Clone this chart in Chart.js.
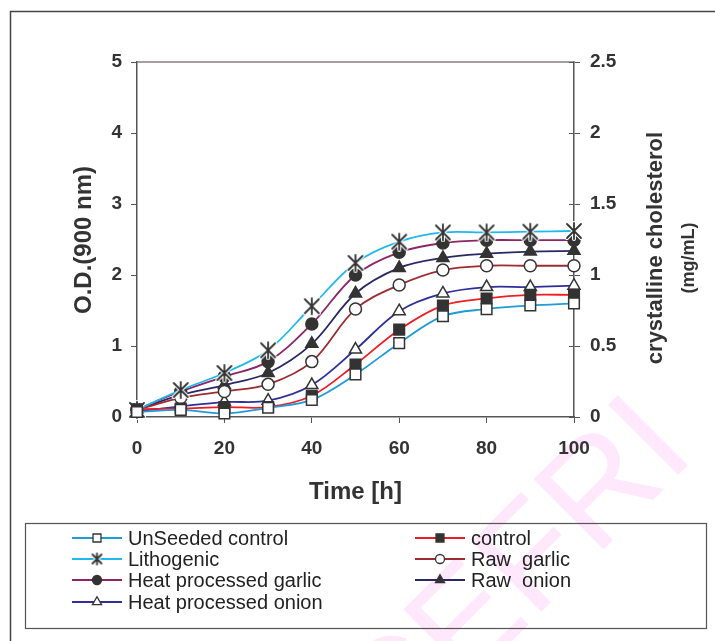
<!DOCTYPE html>
<html lang="en">
<head>
    <meta charset="UTF-8">
    <title>O.D. growth curves</title>
    <script src="https://cdn.jsdelivr.net/npm/chart.js"></script>
    <style>
        body { margin: 0; background: #fff; }
        #chart { display: block; }
    </style>
</head>
<body>
    <canvas id="chart" width="715" height="641"></canvas>

    <script>
        // data (hours vs O.D. 900 nm)
        const hours = [0, 10, 20, 30, 40, 50, 60, 70, 80, 90, 100];
        const unseededControl = [0.07, 0.1, 0.05, 0.13, 0.24, 0.6, 1.04, 1.42, 1.52, 1.57, 1.6];
        const control = [0.11, 0.12, 0.14, 0.14, 0.3, 0.74, 1.23, 1.57, 1.67, 1.72, 1.72];
        const lithogenic = [0.1, 0.38, 0.62, 0.94, 1.56, 2.17, 2.47, 2.6, 2.6, 2.61, 2.62];
        const rawGarlic = [0.1, 0.27, 0.36, 0.46, 0.78, 1.52, 1.86, 2.07, 2.13, 2.13, 2.13];
        const heatGarlic = [0.11, 0.36, 0.57, 0.78, 1.31, 2.0, 2.32, 2.45, 2.49, 2.49, 2.49];
        const rawOnion = [0.1, 0.31, 0.45, 0.62, 1.03, 1.74, 2.1, 2.24, 2.3, 2.33, 2.34];
        const heatOnion = [0.08, 0.15, 0.21, 0.23, 0.45, 0.95, 1.49, 1.74, 1.83, 1.83, 1.85];

        const xTicks = [0, 20, 40, 60, 80, 100];
        const odTicks = [0, 1, 2, 3, 4, 5];
        const cholTicks = [0, 0.5, 1, 1.5, 2, 2.5];

        const ink = '#333';

        // asterisk marker (X with a vertical bar), white halo like the original
        function makeAsterisk(size) {
            const c = document.createElement('canvas');
            c.width = size; c.height = size;
            const g = c.getContext('2d');
            const m = size / 2, r = size / 2 - 3;
            const path = () => {
                g.beginPath();
                g.moveTo(m - r, m - r); g.lineTo(m + r, m + r);
                g.moveTo(m + r, m - r); g.lineTo(m - r, m + r);
                g.moveTo(m, m - r - 1); g.lineTo(m, m + r + 1);
            };
            g.lineCap = 'round';
            g.strokeStyle = '#fff'; g.lineWidth = 4; path(); g.stroke();
            g.strokeStyle = ink; g.lineWidth = 1.8; path(); g.stroke();
            return c;
        }
        const asterisk = makeAsterisk(20);
        const asteriskSmall = makeAsterisk(15);

        function series(label, values, color, style, filled, radius) {
            return {
                label: label,
                data: values.map((v, i) => ({ x: hours[i], y: v })),
                borderColor: color,
                borderWidth: 1.8,
                pointStyle: style,
                pointRadius: radius,
                pointBorderWidth: 1.5,
                pointBorderColor: ink,
                pointBackgroundColor: filled ? ink : '#fff',
                tension: 0.35,
                clip: false,
                yAxisID: 'y'
            };
        }

        const datasets = [
            series('UnSeeded control', unseededControl, '#1f9bd7', 'rect', false, 7.5),
            series('control', control, '#ee1d24', 'rect', true, 7.5),
            series('Lithogenic', lithogenic, '#1fb8ec', asterisk, false, 9),
            series('Raw  garlic', rawGarlic, '#9e2b2f', 'circle', false, 6),
            series('Heat processed garlic', heatGarlic, '#8c2466', 'circle', true, 6),
            series('Raw  onion', rawOnion, '#2a2766', 'triangle', true, 7),
            series('Heat processed onion', heatOnion, '#2e2f9a', 'triangle', false, 7)
        ];

        const tickFont = { family: 'Arial, "Liberation Sans", sans-serif', size: 19, weight: 'bold' };
        const plain = v => String(v);

        // frame, titles, legend box, watermark
        const decorations = {
            id: 'decorations',
            beforeDraw(chart) {
                const ctx = chart.ctx;
                ctx.save();
                ctx.fillStyle = '#fff';
                ctx.fillRect(0, 0, chart.width, chart.height);

                // faint watermark
                ctx.translate(697, 456);
                ctx.rotate(-Math.PI / 4);
                ctx.fillStyle = '#ffe8fc';
                ctx.font = '144px Arial, "Liberation Sans", sans-serif';
                ctx.textAlign = 'right';
                ctx.textBaseline = 'alphabetic';
                ctx.fillText('CEFRI', 0, 0);
                ctx.restore();

                // outer frame (runs off the right and bottom edges)
                ctx.save();
                ctx.strokeStyle = '#444';
                ctx.lineWidth = 1.5;
                ctx.strokeRect(10.5, 11.5, 800, 700);
                ctx.restore();
            },
            afterDraw(chart) {
                const ctx = chart.ctx;
                const a = chart.chartArea;
                const y2 = chart.scales.y2;
                ctx.save();

                // top edge of the plot box
                ctx.strokeStyle = '#8c7c7c';
                ctx.lineWidth = 1.5;
                ctx.beginPath();
                ctx.moveTo(a.left, a.top);
                ctx.lineTo(a.right, a.top);
                ctx.stroke();

                // right axis ticks also poke inside
                ctx.strokeStyle = '#555';
                ctx.lineWidth = 1;
                cholTicks.forEach(t => {
                    const py = Math.round(y2.getPixelForValue(t)) + 0.5;
                    ctx.beginPath();
                    ctx.moveTo(a.right - 5, py);
                    ctx.lineTo(a.right, py);
                    ctx.stroke();
                });

                // axis titles
                ctx.fillStyle = ink;
                ctx.textAlign = 'center';
                ctx.textBaseline = 'middle';
                ctx.font = 'bold 24px Arial, "Liberation Sans", sans-serif';
                ctx.fillText('Time [h]', (a.left + a.right) / 2, 492);

                ctx.save();
                ctx.translate(84, 240);
                ctx.rotate(-Math.PI / 2);
                ctx.fillText('O.D.(900 nm)', 0, 0);
                ctx.restore();

                ctx.save();
                ctx.translate(656, 248);
                ctx.rotate(-Math.PI / 2);
                ctx.font = 'bold 22px Arial, "Liberation Sans", sans-serif';
                ctx.fillText('crystalline cholesterol', 0, 0);
                ctx.restore();

                ctx.save();
                ctx.translate(689, 258);
                ctx.rotate(-Math.PI / 2);
                ctx.font = 'bold 18px Arial, "Liberation Sans", sans-serif';
                ctx.fillText('(mg/mL)', 0, 0);
                ctx.restore();

                // legend box
                ctx.strokeStyle = '#555';
                ctx.lineWidth = 1.2;
                ctx.strokeRect(25.5, 523.5, 681, 105);

                const colX = [72, 415];
                const rowY = [538, 559, 580, 602];
                ctx.font = '20px Arial, "Liberation Sans", sans-serif';
                ctx.textAlign = 'left';
                chart.data.datasets.forEach((ds, i) => {
                    const x = colX[i % 2];
                    const y = rowY[Math.floor(i / 2)];
                    ctx.strokeStyle = ds.borderColor;
                    ctx.lineWidth = 2;
                    ctx.beginPath();
                    ctx.moveTo(x, y);
                    ctx.lineTo(x + 50, y);
                    ctx.stroke();

                    ctx.fillStyle = ds.pointBackgroundColor;
                    ctx.strokeStyle = ink;
                    ctx.lineWidth = 1.3;
                    const style = ds.pointStyle === asterisk ? asteriskSmall : ds.pointStyle;
                    Chart.helpers.drawPoint(ctx, {
                        pointStyle: style,
                        radius: ds.pointRadius * 0.75,
                        rotation: 0,
                        borderWidth: 1.3
                    }, x + 25, y);

                    ctx.fillStyle = '#222';
                    ctx.textBaseline = 'middle';
                    ctx.fillText(ds.label, x + 56, y + 1);
                });

                ctx.restore();
            }
        };

        new Chart(document.getElementById('chart'), {
            type: 'line',
            data: { datasets: datasets },
            options: {
                responsive: false,
                animation: false,
                devicePixelRatio: 1,
                layout: { padding: { top: 62, left: 0, right: 0, bottom: 164 } },
                plugins: {
                    legend: { display: false },
                    tooltip: { enabled: false }
                },
                scales: {
                    x: {
                        type: 'linear',
                        min: 0,
                        max: 100,
                        afterBuildTicks(s) { s.ticks = xTicks.map(v => ({ value: v })); },
                        afterFit(s) { s.height = 60; },
                        ticks: { font: tickFont, color: ink, padding: 14, callback: plain },
                        grid: { drawOnChartArea: false, tickLength: 6, color: '#555' },
                        border: { color: '#555', width: 1.5 }
                    },
                    y: {
                        position: 'left',
                        min: 0,
                        max: 5,
                        afterBuildTicks(s) { s.ticks = odTicks.map(v => ({ value: v })); },
                        afterFit(s) { s.width = 137; },
                        ticks: { font: tickFont, color: ink, padding: 9, callback: plain },
                        grid: { drawOnChartArea: false, tickLength: 6, color: '#555' },
                        border: { color: '#555', width: 1.5 }
                    },
                    y2: {
                        position: 'right',
                        min: 0,
                        max: 2.5,
                        afterBuildTicks(s) { s.ticks = cholTicks.map(v => ({ value: v })); },
                        afterFit(s) { s.width = 141; },
                        ticks: { font: tickFont, color: ink, padding: 10, callback: plain },
                        grid: { drawOnChartArea: false, tickLength: 6, color: '#555' },
                        border: { color: '#555', width: 1.5 }
                    }
                }
            },
            plugins: [decorations]
        });
    </script>
</body>
</html>
